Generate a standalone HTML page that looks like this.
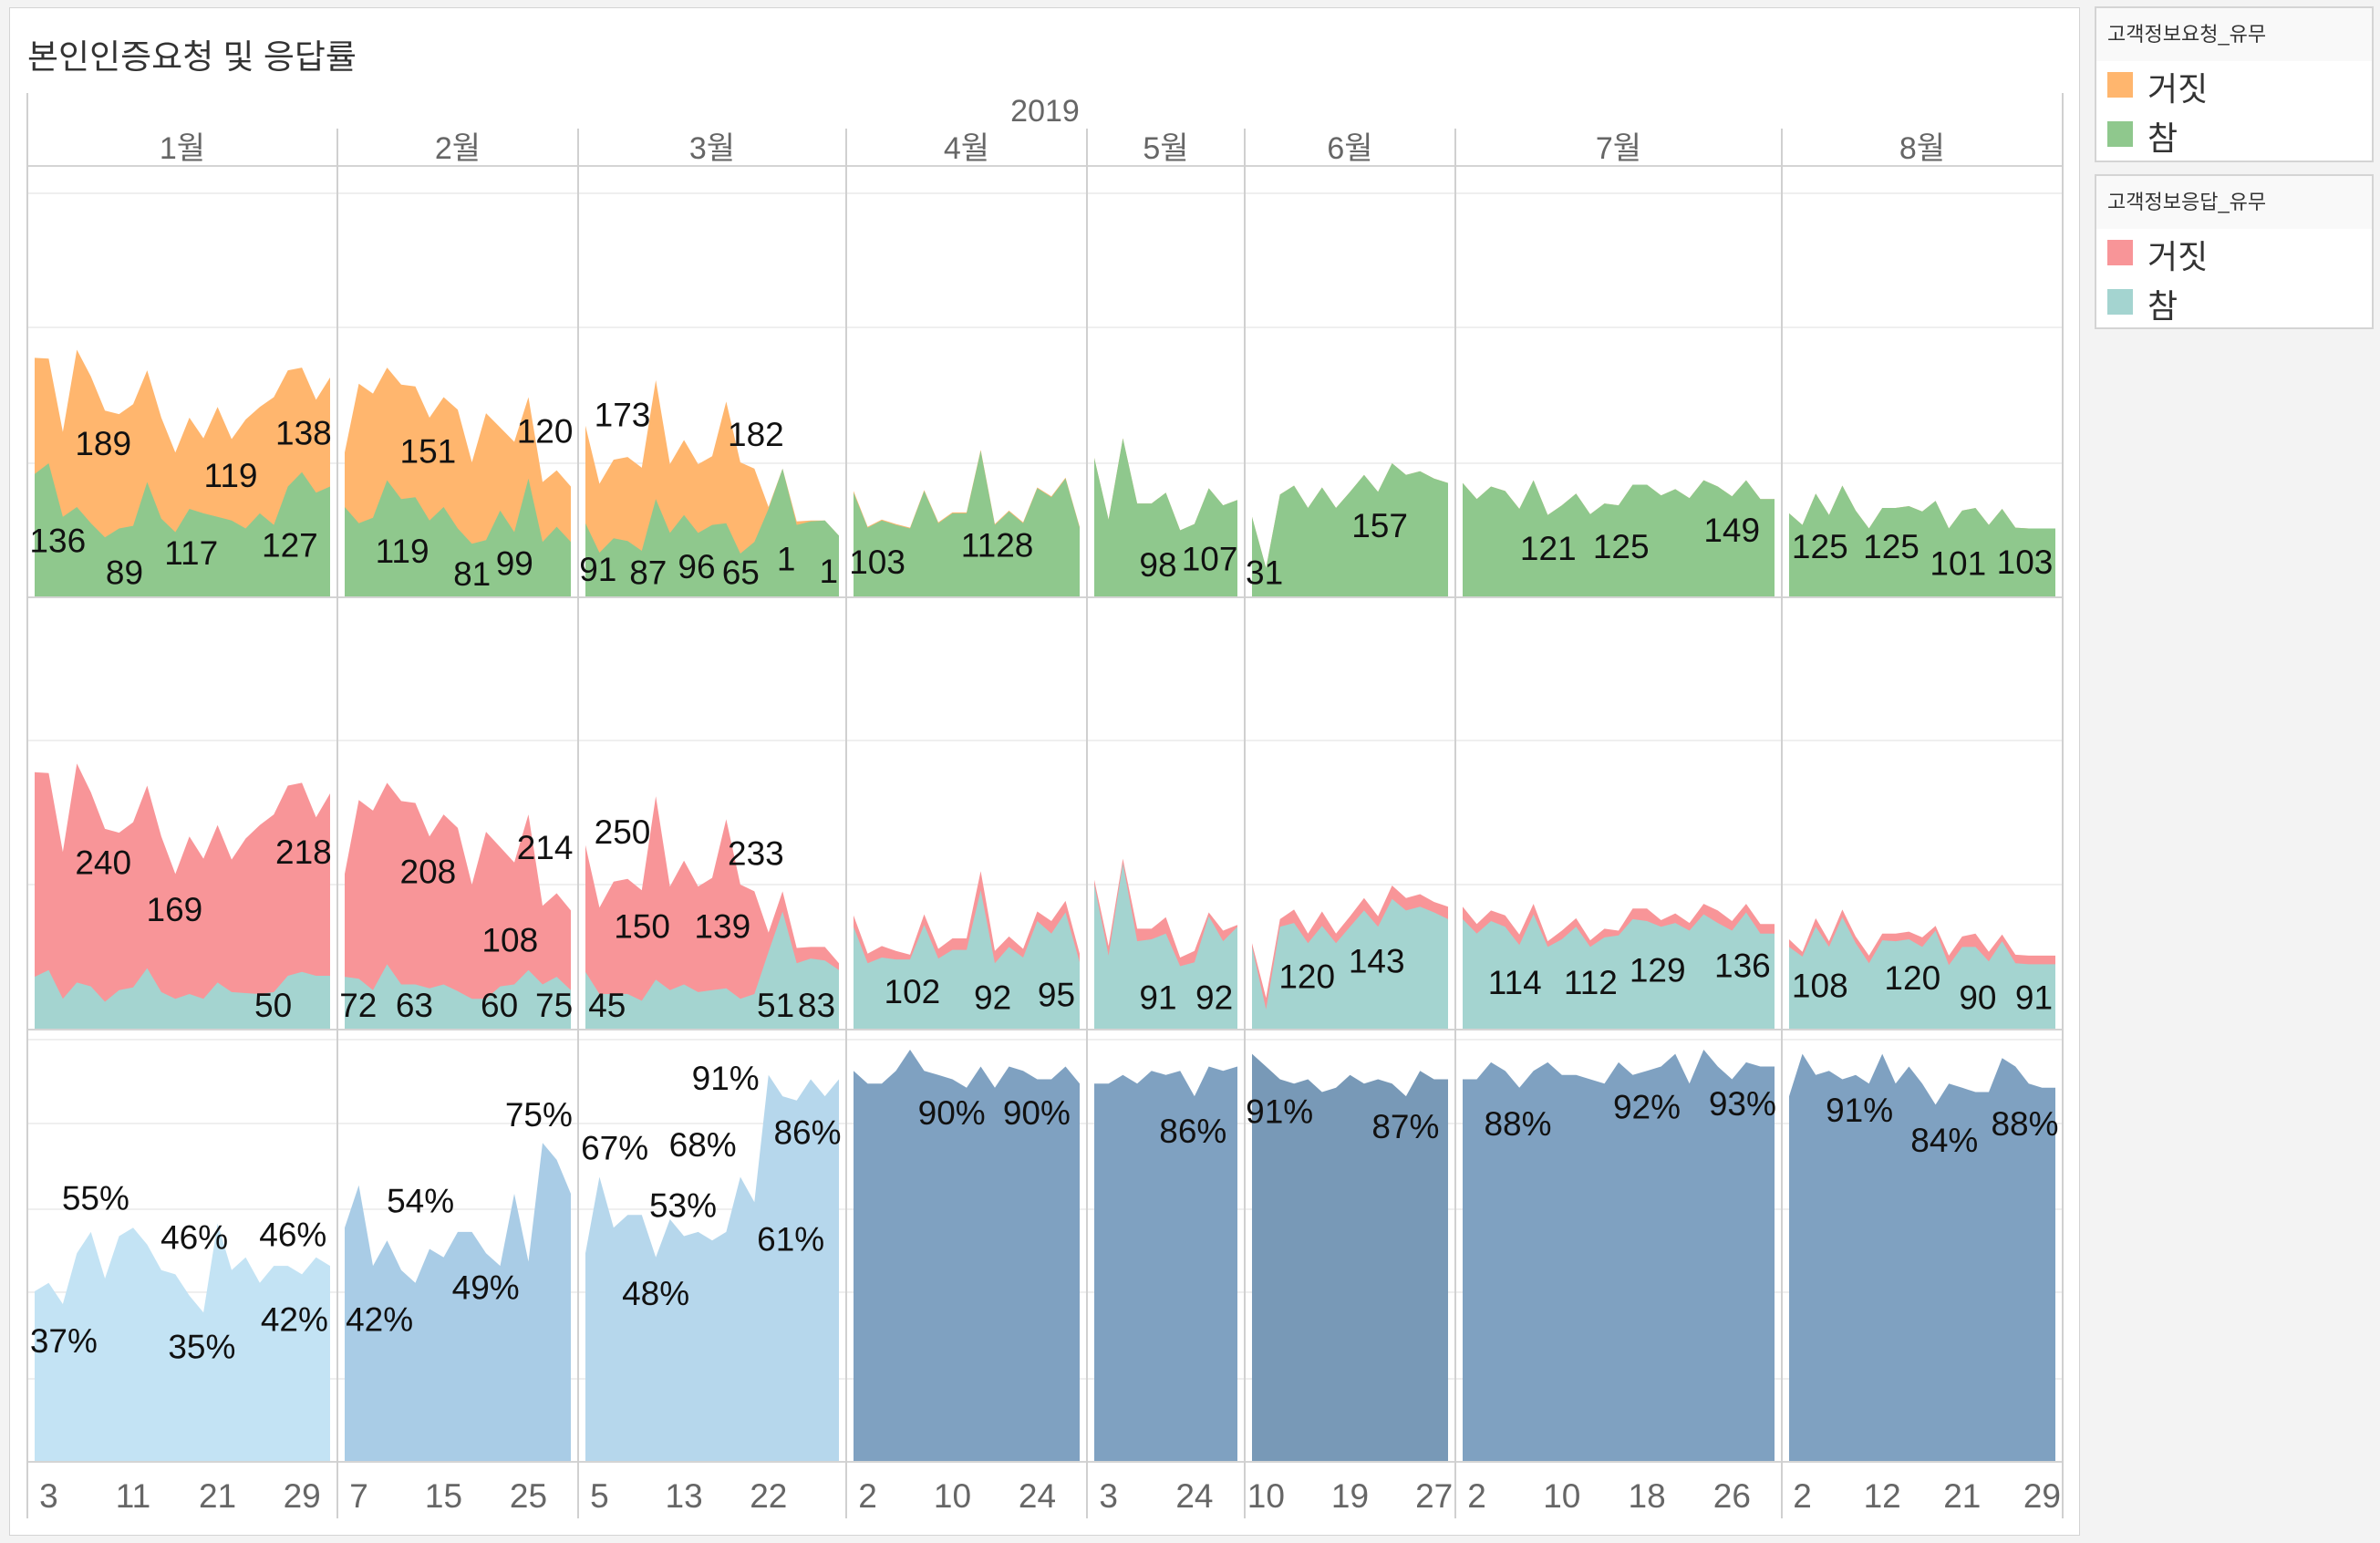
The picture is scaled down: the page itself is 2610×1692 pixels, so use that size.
<!DOCTYPE html>
<html><head><meta charset="utf-8">
<style>
html,body{margin:0;padding:0;background:#f3f3f3;}
body{width:2610px;height:1692px;position:relative;overflow:hidden;font-family:"Liberation Sans","Noto Sans CJK KR",sans-serif;}
#panel{position:absolute;left:10px;top:8px;width:2271px;height:1676px;background:#fff;border:1px solid #d4d4d4;box-sizing:border-box;}
#title{position:absolute;left:30px;top:32px;font-size:37px;color:#333;}
.legend{position:absolute;left:2297px;width:306px;background:#fff;border:2px solid #d4d4d4;box-sizing:border-box;}
.lhead{height:58px;background:#f9f9f9;font-size:22px;color:#333;line-height:58px;padding-left:12px;}
.litem{height:54px;position:relative;}
.sw{position:absolute;left:12px;top:12px;width:28px;height:28px;}
.lt{position:absolute;left:56px;top:2px;font-size:36px;color:#333;}
svg{position:absolute;left:0;top:0;}
</style></head><body>
<div id="panel"></div>
<div id="title">본인인증요청 및 응답률</div>
<div class="legend" style="top:7px;height:171px;">
 <div class="lhead">고객정보요청_유무</div>
 <div class="litem"><div class="sw" style="background:#FFB66E"></div><div class="lt">거짓</div></div>
 <div class="litem"><div class="sw" style="background:#8FC88D"></div><div class="lt">참</div></div>
</div>
<div class="legend" style="top:191px;height:170px;">
 <div class="lhead">고객정보응답_유무</div>
 <div class="litem"><div class="sw" style="background:#F89598"></div><div class="lt">거짓</div></div>
 <div class="litem"><div class="sw" style="background:#A4D4D0"></div><div class="lt">참</div></div>
</div>
<svg id="chart" width="2610" height="1692" xmlns="http://www.w3.org/2000/svg"></svg>
<script>
const monthLabels=['1월','2월','3월','4월','5월','6월','7월','8월'];
const tickLabels=[['3','11','21','29'],['7','15','25'],['5','13','22'],['2','10','24'],['3','24'],['10','19','27'],['2','10','18','26'],['2','12','21','29']];
const reqTrue=[
[138,150,90,101,83,67,77,80,129,88,73,99,94,90,86,77,94,81,124,140,117,124],
[101,83,89,131,110,112,86,101,77,60,64,97,73,133,62,79,62],
[83,50,66,63,52,110,72,92,72,81,83,49,62,99,144,81,85,86,69],
[117,78,86,81,77,119,83,94,94,164,81,96,83,122,112,133,78],
[156,87,178,105,105,117,75,82,122,103,109],
[90,33,115,125,100,123,100,118,137,118,150,137,141,133,128],
[128,110,124,119,99,131,92,103,116,93,105,103,126,126,114,121,111,131,124,113,131,110,110],
[94,81,116,92,125,97,77,100,100,102,96,108,77,97,100,81,99,78,77,77,77]];
const reqFalse=[
[130,117,95,176,164,142,128,136,125,113,89,102,84,123,91,122,119,143,130,117,104,122],
[61,156,139,126,128,124,115,123,133,91,142,93,101,91,67,63,62],
[109,77,88,94,93,133,77,84,77,77,136,102,82,2,0,4,1,0,0],
[2,1,1,1,1,1,1,1,1,1,1,1,1,1,1,1,1],
[0,0,0,0,0,0,0,0,0,0,0],
[0,0,0,0,0,0,0,0,0,0,0,0,0,0,0],
[0,0,0,0,0,0,0,0,0,0,0,0,0,0,0,0,0,0,0,0,0,0,0],
[0,0,0,0,0,0,0,0,0,0,0,0,0,0,0,0,0,0,0,0,0]];
const respTrue=[
[55,62,32,49,45,29,41,44,64,39,32,37,32,49,39,38,37,39,56,60,56,56],
[55,53,41,68,47,47,43,47,40,32,32,45,47,62,47,55,41],
[60,37,37,37,30,52,41,47,39,41,43,32,37,81,123,69,74,72,62],
[107,69,75,73,73,109,74,83,83,145,69,86,75,113,100,122,70],
[151,77,173,92,94,100,66,70,118,92,107],
[86,21,107,111,90,108,90,107,124,107,136,124,128,122,115],
[115,100,113,107,88,120,86,94,107,86,96,98,115,113,107,111,103,120,111,103,122,100,100],
[86,76,107,86,117,90,69,93,92,94,86,103,67,86,86,71,92,69,68,68,68]];
const rate=[
[40,42,37,49,54,43,53,55,51,45,44,39,35,56,45,48,42,46,46,44,48,46],
[55,65,46,52,45,42,50,48,54,54,49,46,63,47,75,71,63],
[49,67,55,58,58,48,57,53,54,52,54,67,61,91,86,85,90,86,90],
[92,89,89,92,97,92,91,90,88,93,88,93,92,90,90,93,89],
[89,89,91,89,92,91,92,86,93,92,93],
[96,93,90,89,90,87,88,91,89,90,89,86,92,90,90],
[90,90,94,92,88,92,94,91,91,90,89,94,91,92,93,96,89,97,93,90,94,93,93],
[86,96,91,92,90,91,89,96,89,93,89,84,89,88,87,87,95,93,89,88,88]];
const valueLabels=[
[0,38,356,'136'],[0,82,377,'89'],[0,68,292,'189'],[0,126,364,'117'],[0,152,313,'119'],[0,191,359,'127'],[0,200,285,'138'],[0,265,363,'119'],[0,282,297,'151'],[0,311,378,'81'],[0,339,371,'99'],[0,359,284,'120'],[0,410,273,'173'],[0,498,286,'182'],[0,394,375,'91'],[0,427,377,'87'],[0,459,373,'96'],[0,488,377,'65'],[0,518,368,'1'],[0,546,376,'1'],[0,578,370,'103'],[0,657,359,'1128'],[0,763,372,'98'],[0,797,368,'107'],[0,833,377,'31'],[0,909,346,'157'],[0,1020,361,'121'],[0,1068,360,'125'],[0,1141,349,'149'],[0,1199,360,'125'],[0,1246,360,'125'],[0,1290,371,'101'],[0,1334,370,'103'],
[1,68,568,'240'],[1,115,599,'169'],[1,200,561,'218'],[1,180,662,'50'],[1,282,574,'208'],[1,359,558,'214'],[1,336,619,'108'],[1,236,662,'72'],[1,273,662,'63'],[1,329,662,'60'],[1,365,662,'75'],[1,400,662,'45'],[1,410,548,'250'],[1,498,562,'233'],[1,423,610,'150'],[1,476,610,'139'],[1,511,662,'51'],[1,538,662,'83'],[1,601,653,'102'],[1,654,657,'92'],[1,696,655,'95'],[1,763,657,'91'],[1,800,657,'92'],[1,861,643,'120'],[1,907,633,'143'],[1,998,647,'114'],[1,1048,647,'112'],[1,1092,639,'129'],[1,1148,636,'136'],[1,1199,649,'108'],[1,1260,644,'120'],[1,1303,657,'90'],[1,1340,657,'91'],
[2,63,789,'55%'],[2,42,883,'37%'],[2,128,815,'46%'],[2,133,887,'35%'],[2,193,813,'46%'],[2,194,869,'42%'],[2,250,869,'42%'],[2,277,791,'54%'],[2,320,848,'49%'],[2,355,734,'75%'],[2,405,756,'67%'],[2,463,754,'68%'],[2,450,794,'53%'],[2,432,852,'48%'],[2,478,710,'91%'],[2,532,746,'86%'],[2,521,816,'61%'],[2,627,733,'90%'],[2,683,733,'90%'],[2,786,745,'86%'],[2,843,732,'91%'],[2,926,742,'87%'],[2,1000,740,'88%'],[2,1085,729,'92%'],[2,1148,727,'93%'],[2,1225,731,'91%'],[2,1281,751,'84%'],[2,1334,740,'88%']];

const NS='http://www.w3.org/2000/svg';
const svg=document.getElementById('chart');
const paneB=[30,370,634,928,1192,1365,1596,1954,2262];
const R1={base:655,k:0.98},R2={base:1129,k:1.053},R3={base:1602,k:4.65};
const rateColors=['#C3E3F4','#A9CCE6','#B6D7EC','#7FA1C1','#7FA1C1','#7899B7','#7FA1C1','#7FA1C1'];
function mk(tag,attrs,parent){const e=document.createElementNS(NS,tag);for(const k in attrs)e.setAttribute(k,attrs[k]);(parent||svg).appendChild(e);return e;}
function xOf(m,i){const n=reqTrue[m].length;const l=paneB[m]+8,r=paneB[m+1]-8;return l+(r-l)*i/(n-1);}
function yOf(row,v){return row.base-v*row.k;}
function area(m,row,vals,color,name){
  const n=vals.length;let pts=xOf(m,0)+','+row.base+' ';
  for(let i=0;i<n;i++)pts+=xOf(m,i).toFixed(1)+','+yOf(row,vals[i]).toFixed(1)+' ';
  pts+=xOf(m,n-1)+','+row.base;
  const p=mk('polygon',{points:pts,fill:color});
  
  
}
[212,359,508,812,970,1140,1232,1326,1417,1512].forEach(y=>{const l=mk('line',{x1:30,x2:2262,y1:y,y2:y,stroke:'#efefef','stroke-width':2});});
for(let m=0;m<8;m++){
  const tot=reqTrue[m].map((v,i)=>v+reqFalse[m][i]);
  area(m,R1,tot,'#FFB66E','request-false-area-'+(m+1));
  area(m,R1,reqTrue[m],'#8FC88D','request-true-area-'+(m+1));
  area(m,R2,tot,'#F89598','response-false-area-'+(m+1));
  area(m,R2,respTrue[m],'#A4D4D0','response-true-area-'+(m+1));
  area(m,R3,rate[m],rateColors[m],'response-rate-area-'+(m+1));
}
[[30,2262,182,182],[30,2262,655,655],[30,2262,1129,1129],[30,2262,1603,1603]].forEach(a=>{const l=mk('line',{x1:a[0],x2:a[1],y1:a[2],y2:a[3],stroke:'#d4d4d4','stroke-width':2});});
paneB.forEach((x,j)=>{const top=(j==0||j==8)?102:141;const l=mk('line',{x1:x,x2:x,y1:top,y2:1665,stroke:'#d0d0d0','stroke-width':2});});
const yr=mk('text',{x:1146,y:133,'font-size':34,fill:'#666','text-anchor':'middle'});yr.textContent='2019';

for(let m=0;m<8;m++){
  const t=mk('text',{x:(paneB[m]+paneB[m+1])/2,y:174,'font-size':34,fill:'#666','text-anchor':'middle','font-family':'Liberation Sans, Noto Sans CJK KR, sans-serif'});
  t.textContent=monthLabels[m];
  
  
  tickLabels[m].forEach((lab,k)=>{
    const tx=mk('text',{x:xOf(m,1+6*k),y:1653,'font-size':37,fill:'#666','text-anchor':'middle'});
    tx.textContent=lab;
    
    
  });
}
const S=2610/1568;
valueLabels.forEach(v=>{
  const t=mk('text',{x:(v[1]*S).toFixed(1),y:(v[2]*S+13).toFixed(1),'font-size':37,fill:'#111','text-anchor':'middle'});
  t.textContent=v[3];
  
  
});
</script>
</body></html>
